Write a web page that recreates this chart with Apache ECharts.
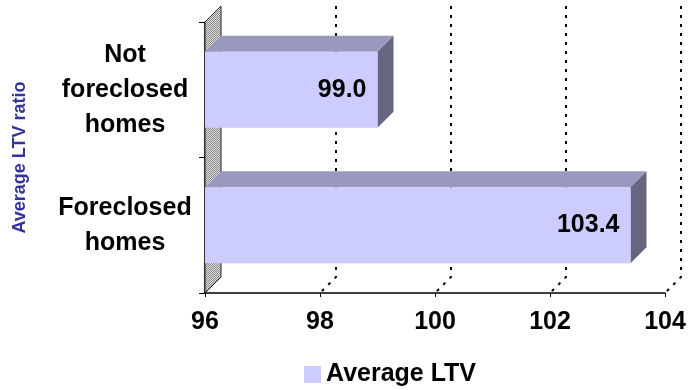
<!DOCTYPE html>
<html>
<head>
<meta charset="utf-8">
<script src="https://cdn.jsdelivr.net/npm/echarts@6/dist/echarts.min.js"></script>
<style>
  html, body { margin: 0; padding: 0; background: #fff; }
  #chart { width: 691px; height: 390px; }
</style>
</head>
<body>
<div id="chart"></div>
<script>
// Categories (top to bottom) and their average loan-to-value ratios
var categories = ['Not\nforeclosed\nhomes', 'Foreclosed\nhomes'];
var ltvValues = [99.0, 103.4];
var seriesName = 'Average LTV';
var axisTicks = [96, 98, 100, 102, 104];

var AXIS_MIN = 96, AXIS_MAX = 104, AXIS_STEP = 2;
var DEPTH = 16;                 // 3D depth offset in pixels
var FRONT = '#CCCCFF', TOP = '#9999BF', SIDE = '#666680';
var FONT = '"Liberation Sans", Arial, sans-serif';

// halftone fill for the back wall
var pat = document.createElement('canvas');
pat.width = 2; pat.height = 2;
var pctx = pat.getContext('2d');
pctx.fillStyle = '#dcdcdc'; pctx.fillRect(0, 0, 2, 2);
pctx.fillStyle = '#8a8a8a'; pctx.fillRect(0, 0, 1, 1); pctx.fillRect(1, 1, 1, 1);

var barData = ltvValues.map(function (v, i) { return [v, i]; });
var gridData = axisTicks.map(function (v) { return [v, 0]; });

var chart = echarts.init(document.getElementById('chart'));
chart.setOption({
  animation: false,
  grid: { left: 205, right: 26, top: 22, bottom: 97 },
  legend: {
    data: [seriesName],
    left: 299, top: 357,
    icon: 'rect', itemWidth: 17, itemHeight: 17, itemGap: 7,
    textStyle: { fontFamily: FONT, fontWeight: 'bold', fontSize: 25, color: '#000' }
  },
  xAxis: {
    type: 'value', min: AXIS_MIN, max: AXIS_MAX, interval: AXIS_STEP,
    splitLine: { show: false },
    axisLine: { show: true, lineStyle: { color: '#000', width: 1.5 } },
    axisTick: { show: true, length: 4, lineStyle: { color: '#000' } },
    axisLabel: { fontFamily: FONT, fontWeight: 'bold', fontSize: 25, color: '#000', margin: 17 }
  },
  yAxis: {
    type: 'category', inverse: true, data: categories,
    name: 'Average LTV ratio', nameLocation: 'middle', nameGap: 176, nameRotate: 90,
    nameTextStyle: { fontFamily: FONT, fontWeight: 'bold', fontSize: 18, color: '#333399' },
    axisLine: { show: true, lineStyle: { color: '#000', width: 1.5 } },
    axisTick: { show: true, length: 6, lineStyle: { color: '#000' } },
    axisLabel: {
      fontFamily: FONT, fontWeight: 'bold', fontSize: 25, color: '#000',
      align: 'center', margin: 80, lineHeight: 35
    }
  },
  series: [
    {
      // back wall and dotted gridlines on the back plane / floor
      type: 'custom', silent: true, z: 1,
      data: gridData,
      encode: { x: 0, y: 1 },
      renderItem: function (params, api) {
        var cs = params.coordSys;
        var x = api.coord([api.value(0), 0])[0];
        var yTop = cs.y, yBot = cs.y + cs.height;
        if (api.value(0) === AXIS_MIN) {
          return {
            type: 'polygon',
            shape: { points: [[x, yTop], [x + DEPTH, yTop - DEPTH], [x + DEPTH, yBot - DEPTH], [x, yBot]] },
            style: { fill: { image: pat, repeat: 'repeat' }, stroke: '#222', lineWidth: 1 }
          };
        }
        return {
          type: 'polyline',
          shape: { points: [[x + DEPTH, yTop - DEPTH], [x + DEPTH, yBot - DEPTH], [x, yBot]] },
          style: { fill: null, stroke: '#000', lineWidth: 2, lineDash: [3, 6] }
        };
      }
    },
    {
      // 3D bars: front, top and side faces plus value label
      name: seriesName, type: 'custom', z: 3,
      itemStyle: { color: FRONT },
      data: barData,
      encode: { x: 0, y: 1 },
      renderItem: function (params, api) {
        var v = api.value(0), idx = api.value(1);
        var base = api.coord([AXIS_MIN, idx]);
        var end = api.coord([v, idx]);
        var h = api.size([0, 1])[1] * 0.56;
        var top = end[1] - h / 2, bot = end[1] + h / 2;
        var x0 = base[0], x1 = end[0];
        return {
          type: 'group',
          children: [
            { type: 'polygon',
              shape: { points: [[x0, top], [x0 + DEPTH, top - DEPTH], [x1 + DEPTH, top - DEPTH], [x1, top]] },
              style: { fill: TOP } },
            { type: 'polygon',
              shape: { points: [[x1, top], [x1 + DEPTH, top - DEPTH], [x1 + DEPTH, bot - DEPTH], [x1, bot]] },
              style: { fill: SIDE } },
            { type: 'rect', shape: { x: x0, y: top, width: x1 - x0, height: h },
              style: { fill: FRONT } },
            { type: 'text',
              style: { text: v.toFixed(1), x: x1 - 11, y: end[1], align: 'right', verticalAlign: 'middle',
                       font: 'bold 25px ' + FONT, fill: '#000' } }
          ]
        };
      }
    }
  ]
});
</script>
</body>
</html>
